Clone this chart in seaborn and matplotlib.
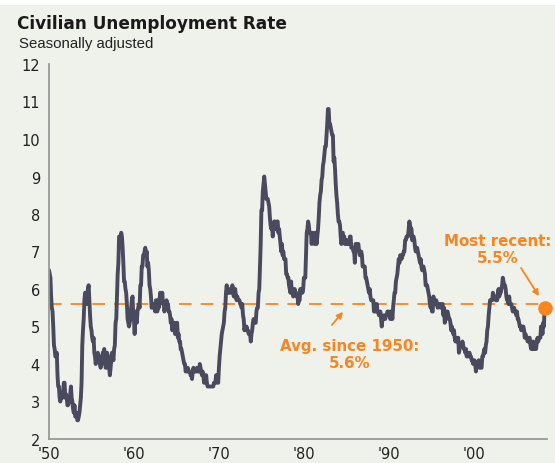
import numpy as np
import pandas as pd
import matplotlib
matplotlib.use("Agg")
import matplotlib.pyplot as plt
import seaborn as sns

# Monthly civilian unemployment rate (%), seasonally adjusted, read per decade
u1950s = [6.5, 6.4, 6.3, 5.8, 5.5, 5.4, 5.0, 4.5, 4.4, 4.2, 4.2, 4.3,
          3.7, 3.4, 3.4, 3.1, 3.0, 3.2, 3.1, 3.1, 3.3, 3.5, 3.5, 3.1,
          3.2, 3.1, 2.9, 2.9, 3.0, 3.0, 3.2, 3.4, 3.1, 3.0, 2.8, 2.7,
          2.9, 2.6, 2.6, 2.7, 2.5, 2.5, 2.6, 2.7, 2.9, 3.1, 3.5, 4.5,
          4.9, 5.2, 5.7, 5.9, 5.9, 5.6, 5.8, 6.0, 6.1, 5.7, 5.3, 5.0,
          4.9, 4.7, 4.6, 4.7, 4.3, 4.2, 4.0, 4.2, 4.1, 4.3, 4.2, 4.2,
          4.0, 3.9, 4.2, 4.0, 4.3, 4.3, 4.4, 4.1, 3.9, 3.9, 4.3, 4.2,
          4.2, 3.9, 3.7, 3.9, 4.1, 4.3, 4.2, 4.1, 4.4, 4.5, 5.1, 5.2,
          5.8, 6.4, 6.7, 7.4, 7.4, 7.3, 7.5, 7.4, 7.1, 6.7, 6.2, 6.2,
          6.0, 5.9, 5.6, 5.2, 5.1, 5.0, 5.1, 5.2, 5.5, 5.7, 5.8, 5.3]
u1960s = [5.2, 4.8, 5.4, 5.2, 5.1, 5.4, 5.5, 5.6, 5.5, 6.1, 6.1, 6.6,
          6.6, 6.9, 6.9, 7.0, 7.1, 6.9, 7.0, 6.6, 6.7, 6.5, 6.1, 6.0,
          5.8, 5.5, 5.6, 5.6, 5.5, 5.5, 5.4, 5.7, 5.6, 5.4, 5.7, 5.5,
          5.7, 5.9, 5.7, 5.7, 5.9, 5.6, 5.6, 5.4, 5.5, 5.5, 5.7, 5.5,
          5.6, 5.4, 5.4, 5.3, 5.1, 5.2, 4.9, 5.0, 5.1, 5.1, 4.8, 5.0,
          4.9, 5.1, 4.7, 4.8, 4.6, 4.6, 4.4, 4.4, 4.3, 4.2, 4.1, 4.0,
          4.0, 3.8, 3.8, 3.8, 3.9, 3.8, 3.8, 3.8, 3.7, 3.7, 3.6, 3.8,
          3.9, 3.8, 3.8, 3.8, 3.8, 3.9, 3.8, 3.8, 3.8, 4.0, 3.9, 3.8,
          3.7, 3.8, 3.7, 3.5, 3.5, 3.7, 3.7, 3.5, 3.4, 3.4, 3.4, 3.4,
          3.4, 3.4, 3.4, 3.4, 3.4, 3.5, 3.5, 3.5, 3.7, 3.7, 3.5, 3.5]
u1970s = [3.9, 4.2, 4.4, 4.6, 4.8, 4.9, 5.0, 5.1, 5.4, 5.5, 5.9, 6.1,
          5.9, 5.9, 6.0, 5.9, 5.9, 5.9, 6.0, 6.1, 6.0, 5.8, 6.0, 6.0,
          5.8, 5.7, 5.8, 5.7, 5.7, 5.7, 5.6, 5.6, 5.5, 5.6, 5.3, 5.2,
          4.9, 5.0, 4.9, 5.0, 4.9, 4.9, 4.8, 4.8, 4.8, 4.6, 4.8, 4.9,
          5.1, 5.2, 5.1, 5.1, 5.1, 5.4, 5.5, 5.5, 5.9, 6.0, 6.6, 7.2,
          8.1, 8.1, 8.6, 8.8, 9.0, 8.8, 8.6, 8.4, 8.4, 8.4, 8.3, 8.2,
          7.9, 7.7, 7.6, 7.7, 7.4, 7.6, 7.8, 7.8, 7.6, 7.7, 7.8, 7.8,
          7.5, 7.6, 7.4, 7.2, 7.0, 7.2, 6.9, 7.0, 6.8, 6.8, 6.8, 6.4,
          6.4, 6.3, 6.3, 6.1, 6.0, 5.9, 6.2, 5.9, 6.0, 5.8, 5.9, 6.0,
          5.9, 5.9, 5.8, 5.8, 5.6, 5.7, 5.7, 6.0, 5.9, 6.0, 5.9, 6.0]
u1980s = [6.3, 6.3, 6.3, 6.9, 7.5, 7.6, 7.8, 7.7, 7.5, 7.5, 7.5, 7.2,
          7.5, 7.4, 7.4, 7.2, 7.5, 7.5, 7.2, 7.4, 7.6, 7.9, 8.3, 8.5,
          8.6, 8.9, 9.0, 9.3, 9.4, 9.6, 9.8, 9.8, 10.1, 10.4, 10.8, 10.8,
          10.4, 10.4, 10.3, 10.2, 10.1, 10.1, 9.4, 9.5, 9.2, 8.8, 8.5, 8.3,
          8.0, 7.8, 7.8, 7.7, 7.4, 7.2, 7.5, 7.5, 7.3, 7.4, 7.2, 7.3,
          7.3, 7.2, 7.2, 7.3, 7.2, 7.4, 7.4, 7.1, 7.1, 7.1, 7.0, 7.0,
          6.7, 7.2, 7.2, 7.1, 7.2, 7.2, 7.0, 6.9, 7.0, 7.0, 6.9, 6.6,
          6.6, 6.6, 6.6, 6.3, 6.3, 6.2, 6.1, 6.0, 5.9, 6.0, 5.8, 5.7,
          5.7, 5.7, 5.7, 5.4, 5.6, 5.4, 5.4, 5.6, 5.4, 5.4, 5.3, 5.3,
          5.4, 5.2, 5.0, 5.2, 5.2, 5.3, 5.2, 5.2, 5.3, 5.3, 5.4, 5.4]
u1990s = [5.4, 5.3, 5.2, 5.4, 5.4, 5.2, 5.5, 5.7, 5.9, 5.9, 6.2, 6.3,
          6.4, 6.6, 6.8, 6.7, 6.9, 6.9, 6.8, 6.9, 6.9, 7.0, 7.0, 7.3,
          7.3, 7.4, 7.4, 7.4, 7.6, 7.8, 7.7, 7.6, 7.6, 7.3, 7.4, 7.4,
          7.3, 7.1, 7.0, 7.1, 7.1, 7.0, 6.9, 6.8, 6.7, 6.8, 6.6, 6.5,
          6.6, 6.6, 6.5, 6.4, 6.1, 6.1, 6.1, 6.0, 5.9, 5.8, 5.6, 5.5,
          5.6, 5.4, 5.4, 5.8, 5.6, 5.6, 5.7, 5.7, 5.6, 5.5, 5.6, 5.6,
          5.6, 5.5, 5.5, 5.6, 5.6, 5.3, 5.5, 5.1, 5.2, 5.2, 5.4, 5.4,
          5.3, 5.2, 5.2, 5.1, 4.9, 5.0, 4.9, 4.8, 4.9, 4.7, 4.6, 4.7,
          4.6, 4.6, 4.7, 4.3, 4.4, 4.5, 4.5, 4.5, 4.6, 4.5, 4.4, 4.4,
          4.3, 4.4, 4.2, 4.3, 4.2, 4.3, 4.3, 4.2, 4.2, 4.1, 4.1, 4.0]
u2000s = [4.0, 4.1, 4.0, 3.8, 4.0, 4.0, 4.0, 4.1, 3.9, 3.9, 3.9, 3.9,
          4.2, 4.2, 4.3, 4.4, 4.3, 4.5, 4.6, 4.9, 5.0, 5.3, 5.5, 5.7,
          5.7, 5.7, 5.7, 5.9, 5.8, 5.8, 5.8, 5.7, 5.7, 5.7, 5.9, 6.0,
          5.8, 5.9, 5.9, 6.0, 6.1, 6.3, 6.2, 6.1, 6.1, 6.0, 5.8, 5.7,
          5.7, 5.6, 5.8, 5.6, 5.6, 5.6, 5.5, 5.4, 5.4, 5.5, 5.4, 5.4,
          5.3, 5.4, 5.2, 5.2, 5.1, 5.0, 5.0, 4.9, 5.0, 5.0, 5.0, 4.9,
          4.7, 4.8, 4.7, 4.7, 4.6, 4.6, 4.7, 4.7, 4.5, 4.4, 4.5, 4.4,
          4.6, 4.5, 4.4, 4.5, 4.4, 4.6, 4.7, 4.6, 4.7, 4.7, 4.7, 5.0,
          5.0, 4.8, 5.1, 5.0, 5.5, 5.5]

start_year = 1950
average_rate = 5.6
x_ticks = [1950, 1960, 1970, 1980, 1990, 2000]
x_tick_labels = ["'50", "'60", "'70", "'80", "'90", "'00"]
y_ticks = [2, 3, 4, 5, 6, 7, 8, 9, 10, 11, 12]

rates = u1950s + u1960s + u1970s + u1980s + u1990s + u2000s
df = pd.DataFrame({"year": start_year + np.arange(len(rates)) / 12.0,
                   "rate": rates})

LINE = "#4a4a5f"
ORANGE = "#f7861f"
BG = "#eff1eb"

sns.set_theme(style="white")
plt.rcParams["font.family"] = ["DejaVu Sans"]

fig = plt.figure(figsize=(5.55, 4.64), dpi=100, facecolor=BG)
# white strip at top
fig.patches.append(plt.Rectangle((0, 1 - 6 / 464), 1, 6 / 464, transform=fig.transFigure,
                                 facecolor="white", edgecolor="none", zorder=0))

ax = fig.add_axes([49 / 555, (464 - 440) / 464, (547 - 49) / 555, (440 - 65) / 464])
ax.set_facecolor(BG)

ax.axhline(average_rate, color=ORANGE, lw=1.3, dashes=(7, 5), zorder=1)
sns.lineplot(data=df, x="year", y="rate", ax=ax, color=LINE, lw=2.8, zorder=2)
last_x = df["year"].iloc[-1]
last_y = df["rate"].iloc[-1]
ax.plot(last_x, last_y, "o", color=ORANGE, ms=9.5, zorder=3, clip_on=False)

ax.set_xlim(start_year, last_x + 0.2)
ax.set_ylim(2, 12)
ax.set_xticks(x_ticks)
ax.set_xticklabels(x_tick_labels)
ax.set_yticks(y_ticks)
ax.set_xlabel("")
ax.set_ylabel("")

for s in ["top", "right"]:
    ax.spines[s].set_visible(False)
for s in ["left", "bottom"]:
    ax.spines[s].set_color("#999999")
    ax.spines[s].set_linewidth(1.3)
ax.tick_params(axis="both", which="both", direction="out", width=1,
               color="#999999", labelsize=10.5, labelcolor="#222222")
ax.tick_params(axis="y", length=5, pad=1.5)
ax.tick_params(axis="x", length=5, pad=0)

# Title and subtitle
fig.text(17 / 555, 1 - 29 / 464, "Civilian Unemployment Rate", fontsize=12.2,
         fontweight="bold", color="#1a1a1a", ha="left", va="baseline")
fig.text(19 / 555, 1 - 48 / 464, "Seasonally adjusted", fontsize=10.8,
         color="#222222", ha="left", va="baseline",
         family=["Liberation Sans", "DejaVu Sans"])

# Annotations
ax.text(1985.4, 4.7, "Avg. since 1950:\n5.6%", ha="center", va="top",
        fontsize=10.8, fontweight="bold", color=ORANGE, linespacing=1.15)
ax.annotate("", xy=(1984.6, 5.39), xytext=(1983.3, 5.04),
            arrowprops=dict(arrowstyle="-|>", color=ORANGE, lw=1.3,
                            mutation_scale=9, shrinkA=0, shrinkB=0))
ax.text(2002.85, 7.5, "Most recent:\n5.5%", ha="center", va="top",
        fontsize=10.8, fontweight="bold", color=ORANGE, linespacing=1.15)
ax.annotate("", xy=(2007.67, 5.81), xytext=(2005.56, 6.56),
            arrowprops=dict(arrowstyle="-|>", color=ORANGE, lw=1.3,
                            mutation_scale=9, shrinkA=0, shrinkB=0))

fig.savefig("out.png", dpi=100, facecolor=BG)
